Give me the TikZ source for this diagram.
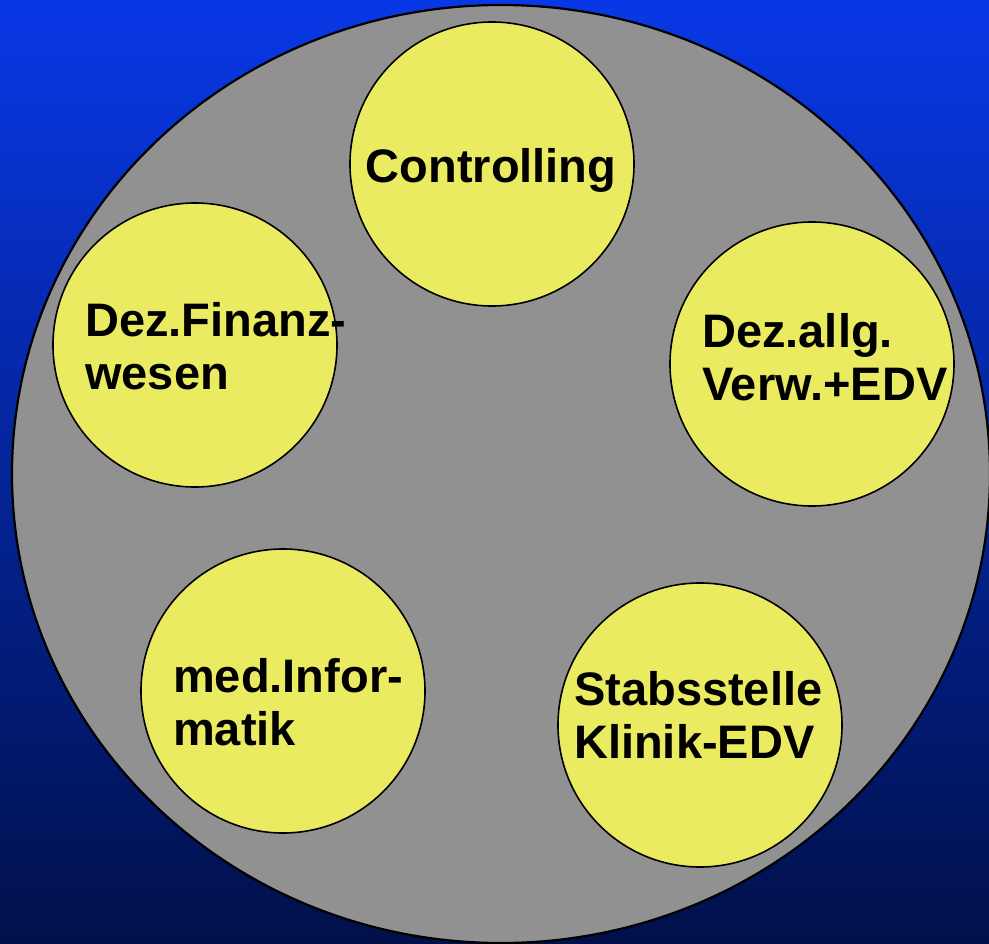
\documentclass[tikz,border=0pt]{standalone}
\usepackage{fontspec}
\setmainfont{Liberation Sans}
\usepackage{tikz}
\usetikzlibrary{shapes.geometric}
\definecolor{bgtop}{RGB}{8,56,230}
\definecolor{bgbot}{RGB}{0,16,74}
\definecolor{discgray}{RGB}{145,145,145}
\definecolor{unityellow}{RGB}{235,235,98}

\begin{document}
\begin{tikzpicture}[x=1pt, y=-1pt,
    unit/.style={circle, draw=black, line width=1.6pt, fill=unityellow, minimum size=284pt, inner sep=0pt},
    lbl/.style={font=\fontsize{47}{53}\selectfont\bfseries, align=left, inner sep=0pt, anchor=west}]
    \useasboundingbox (0,0) rectangle (989,944);
    \shade[top color=bgtop, bottom color=bgbot] (0,0) rectangle (989,944);
    \node[ellipse, draw=black, line width=2.2pt, fill=discgray, minimum width=978pt, minimum height=938pt, inner sep=0pt] (disc) at (501,474) {};
        \node[unit] (ctrl) at (492,164) {};
        \node[unit] (fin) at (195,345) {};
        \node[unit] (verw) at (812,364) {};
        \node[unit] (medinf) at (283,691) {};
        \node[unit] (klinik) at (700,725) {};
        \node[lbl, anchor=base] (ctrltext) at (491,183) {Controlling};
        \node[lbl] (fintext) at (85,346.5) {Dez.Finanz-\\wesen};
        \node[lbl] (verwtext) at (702,357) {Dez.allg.\\Verw.+EDV};
        \node[lbl] (medinftext) at (173,702) {med.Infor-\\matik};
        \node[lbl] (klinitext) at (574,714.5) {Stabsstelle\\Klinik-EDV};
\end{tikzpicture}
\end{document}
